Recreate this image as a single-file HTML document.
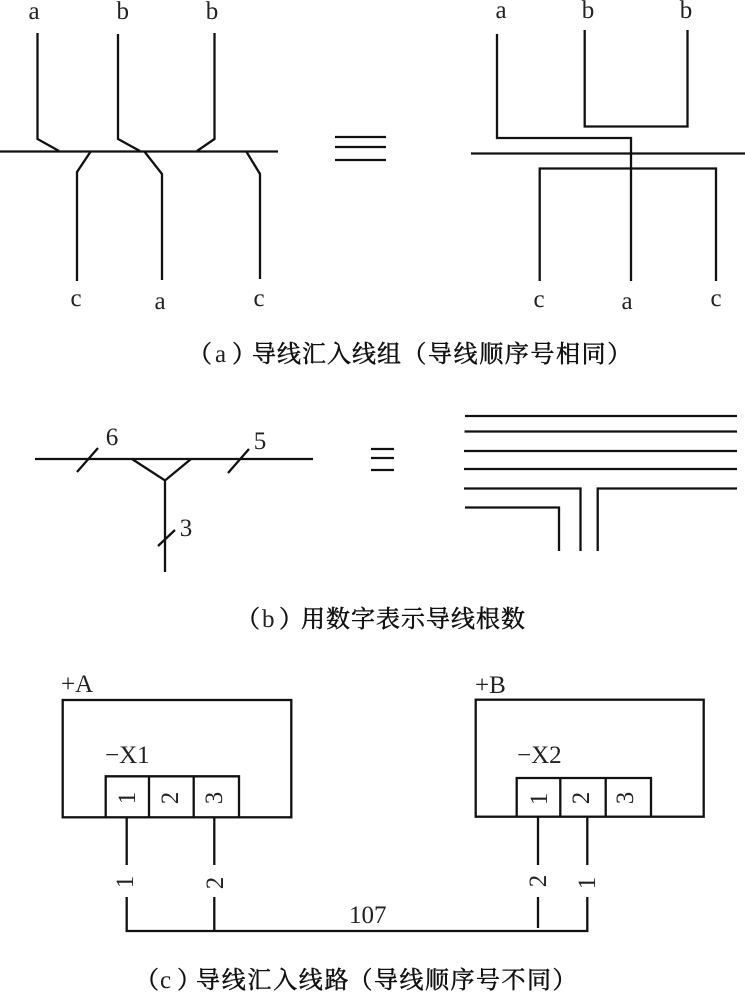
<!DOCTYPE html>
<html lang="zh"><head><meta charset="utf-8"><title>导线汇入线组</title>
<style>
html,body{margin:0;padding:0;background:#fff}
svg{display:block}
.l{fill:none;stroke:#111;stroke-width:2.3;stroke-linejoin:miter}
text{font-family:"Liberation Serif","Noto Serif CJK SC",serif;font-size:25px;fill:#222}
.c{text-anchor:middle}
.z{font-family:"Noto Serif CJK SC","Noto Sans CJK SC",serif;font-size:24px;fill:#111;stroke:#111;stroke-width:.5px;letter-spacing:1px}
.p{font-family:"Liberation Serif",serif;font-size:25px;fill:#222}
.n{font-size:25px;text-anchor:middle}
</style></head><body>
<svg width="745" height="994" viewBox="0 0 745 994" xmlns="http://www.w3.org/2000/svg">
<rect width="745" height="994" fill="#fff"/>
<!-- (a) -->
<g class="l">
<path d="M0 151.5H278"/>
<path d="M37.5 33V139L59 151"/>
<path d="M118 34V139L140 151"/>
<path d="M214.5 33V139L197 151"/>
<path d="M91 151L77 172V281"/>
<path d="M144 151L162 174V280"/>
<path d="M246 151L260 174V279"/>
<path d="M335 137H386M335 147H386M335 160H386"/>
<path d="M497 34V138H631V281"/>
<path d="M584.7 30V126.5H687.5V30"/>
<path d="M471 153.5H745"/>
<path d="M539.7 281V168.5H716V281"/>
</g>
<g class="c">
<text x="34" y="19">a</text><text x="122.7" y="19">b</text><text x="212" y="19">b</text>
<text x="76" y="306">c</text><text x="160" y="309">a</text><text x="259" y="306">c</text>
<text x="501" y="18">a</text><text x="588" y="18">b</text><text x="686" y="18">b</text>
<text x="539" y="307">c</text><text x="627" y="309">a</text><text x="716" y="306">c</text>
</g>
<text class="z" x="188" y="362">（</text><text class="p" x="215" y="362">a</text><text class="z" x="232" y="362">）</text>
<text class="z" x="252" y="362">导线汇入线组</text>
<text class="z" x="402.400" y="362" style="letter-spacing:1.6px">（导线顺序号相同）</text>
<!-- (b) -->
<g class="l">
<path d="M35 459H313"/>
<path d="M77 472L98 448M228 473L249 449M158 546L175 530"/>
<path d="M132 459L165 480.5L191 459M165 480.5V572"/>
<path d="M371 449H394M371 458H394M371 470H394"/>
<path d="M465 416H737M464.500 431.500H737M464 451H737M464 469H737"/>
<path d="M464 488.500H580.500V551M597.700 551V488.500H737"/>
<path d="M465 507.500H559V551"/>
</g>
<text x="112" y="445" class="c">6</text><text x="260" y="449" class="c">5</text><text x="186" y="536" class="c">3</text>
<text class="z" x="236" y="627">（</text><text class="p" x="262" y="627">b</text><text class="z" x="279" y="627">）</text>
<text class="z" x="301" y="627">用数字表示导线根数</text>
<!-- (c) -->
<g class="l">
<rect x="62.700" y="700" width="228.600" height="117.300"/>
<path d="M105.700 817V776.300H239V817M149 776.300V817M193.700 776.300V817"/>
<path d="M126.700 817V865M214.300 817V865"/>
<rect x="475.700" y="699.700" width="228" height="117"/>
<path d="M516.700 817V778H651V817M560.300 778V817M605.700 778V817"/>
<path d="M538 817V865M587.300 817V865"/>
<path d="M126.700 897V931H587.300V897M214.300 897V931M538 897V928"/>
</g>
<text x="61" y="692">+A</text><text x="105" y="763">−X1</text>
<text x="475" y="693">+B</text><text x="517" y="763">−X2</text>
<text x="349" y="923">107</text>
<text class="n" transform="translate(135,798) rotate(-90)">1</text>
<text class="n" transform="translate(178,798) rotate(-90)">2</text>
<text class="n" transform="translate(222,798) rotate(-90)">3</text>
<text class="n" transform="translate(133,882) rotate(-90)">1</text>
<text class="n" transform="translate(223,883) rotate(-90)">2</text>
<text class="n" transform="translate(547,799) rotate(-90)">1</text>
<text class="n" transform="translate(589,798) rotate(-90)">2</text>
<text class="n" transform="translate(633,798) rotate(-90)">3</text>
<text class="n" transform="translate(546,881) rotate(-90)">2</text>
<text class="n" transform="translate(595,883) rotate(-90)">1</text>
<text class="z" x="135" y="988">（</text><text class="p" x="160" y="988">c</text><text class="z" x="177" y="988">）</text>
<text class="z" x="196" y="988" style="letter-spacing:1.7px">导线汇入线路</text>
<text class="z" x="348.500" y="988" style="letter-spacing:1.5px">（导线顺序号不同）</text>
</svg>
</body></html>
